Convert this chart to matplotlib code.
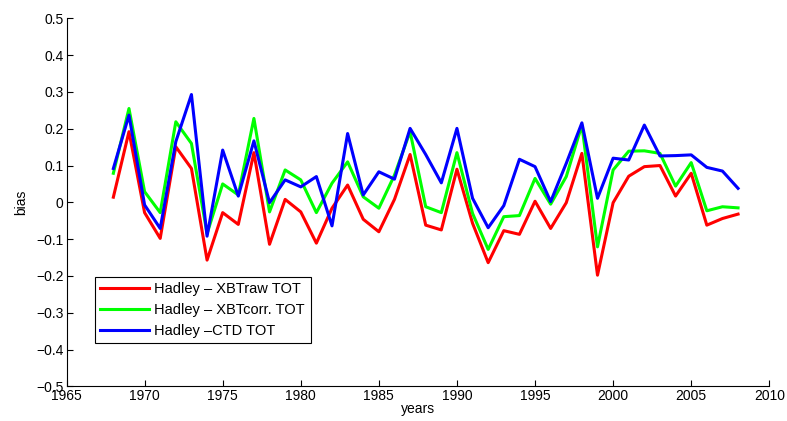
import numpy as np
import matplotlib
matplotlib.use("Agg")
import matplotlib.pyplot as plt

plt.rcParams['font.family'] = ['Liberation Sans', 'DejaVu Sans']
plt.rcParams['font.size'] = 10

years = np.arange(1968, 2009)

xbt_raw = [0.014, 0.192, -0.028, -0.098, 0.151, 0.092, -0.157, -0.028, -0.060, 0.135,
           -0.114, 0.008, -0.026, -0.111, -0.016, 0.047, -0.046, -0.080, 0.008, 0.130,
           -0.062, -0.075, 0.090, -0.057, -0.164, -0.077, -0.087, 0.003, -0.071, -0.001,
           0.133, -0.198, -0.001, 0.071, 0.097, 0.100, 0.017, 0.079, -0.062, -0.044, -0.032]

xbt_corr = [0.079, 0.255, 0.029, -0.028, 0.219, 0.160, -0.085, 0.050, 0.020, 0.228,
            -0.026, 0.088, 0.061, -0.028, 0.052, 0.110, 0.015, -0.016, 0.074, 0.192,
            -0.012, -0.028, 0.135, -0.030, -0.128, -0.039, -0.036, 0.065, -0.005, 0.070,
            0.210, -0.121, 0.088, 0.139, 0.140, 0.133, 0.044, 0.108, -0.023, -0.012, -0.015]

ctd = [0.092, 0.237, -0.007, -0.071, 0.165, 0.293, -0.092, 0.142, 0.017, 0.167,
       -0.001, 0.061, 0.042, 0.070, -0.064, 0.187, 0.020, 0.083, 0.063, 0.201,
       0.130, 0.053, 0.201, 0.011, -0.069, -0.009, 0.117, 0.097, 0.002, 0.106,
       0.216, 0.011, 0.120, 0.115, 0.210, 0.126, 0.127, 0.129, 0.095, 0.085, 0.038]

labels = ['Hadley \u2013 XBTraw TOT', 'Hadley \u2013 XBTcorr. TOT', 'Hadley \u2013CTD TOT']

xticks = np.arange(1965, 2011, 5)
yticks = np.round(np.arange(-0.5, 0.51, 0.1), 1)
ytick_labels = ['\u22120.5', '\u22120.4', '\u22120.3', '\u22120.2', '\u22120.1', '0',
                '0.1', '0.2', '0.3', '0.4', '0.5']

fig = plt.figure(figsize=(7.87, 4.21), dpi=100)
ax = fig.add_axes([0.0845, 0.0824, 0.893, 0.874])

ax.plot(years, xbt_raw, color='#ff0000', lw=2.2, label=labels[0])
ax.plot(years, xbt_corr, color='#00ff00', lw=2.2, label=labels[1])
ax.plot(years, ctd, color='#0000ff', lw=2.2, label=labels[2])

ax.set_xlim(1965, 2010)
ax.set_ylim(-0.5, 0.5)
ax.set_xticks(xticks)
ax.set_yticks(yticks)
ax.set_yticklabels(ytick_labels)
ax.tick_params(direction='in', length=4, width=0.8, pad=2)
for s in ['top', 'right']:
    ax.spines[s].set_visible(False)
ax.spines['left'].set_linewidth(0.8)
ax.spines['bottom'].set_linewidth(0.8)

ax.set_xlabel('years', labelpad=-1)
ax.set_ylabel('bias', labelpad=6)

leg = ax.legend(loc='upper left', bbox_to_anchor=(0.040, 0.298), borderaxespad=0,
                fancybox=False, framealpha=1, edgecolor='black', handlelength=3.3,
                handletextpad=0.4, labelspacing=0.45, borderpad=0.4, fontsize=10.5)
leg.get_frame().set_linewidth(0.8)

fig.savefig('out.png', dpi=100)
